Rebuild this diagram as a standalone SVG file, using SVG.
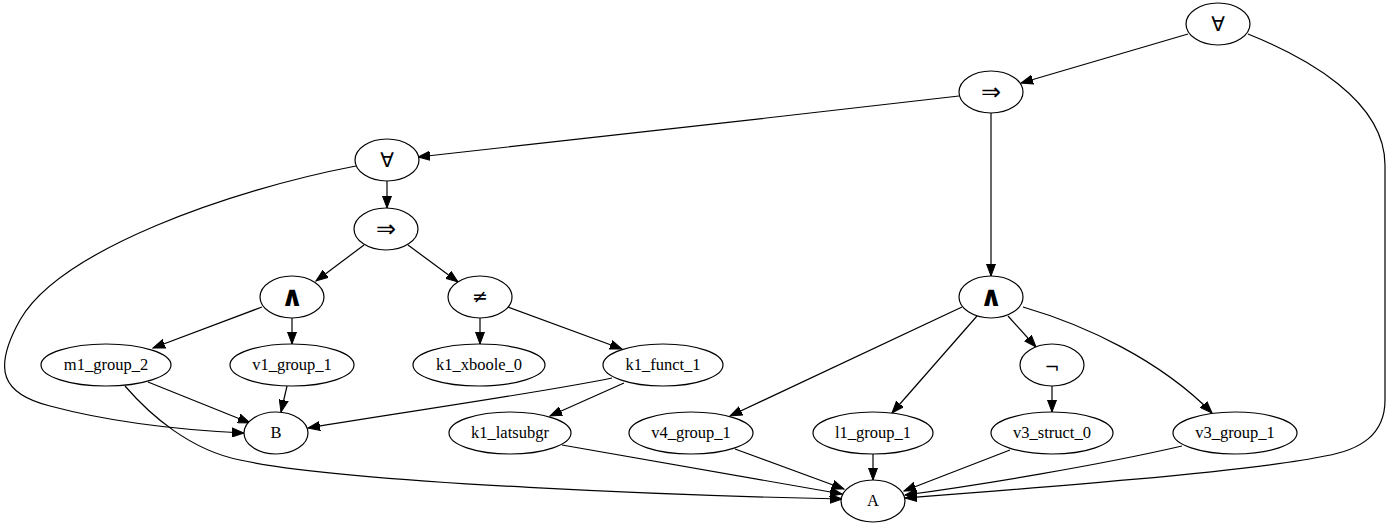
<svg xmlns="http://www.w3.org/2000/svg" width="1390" height="527" viewBox="0 0 1390 527">
<defs>
<style>
.n ellipse{fill:#fff;stroke:#000;stroke-width:1.2}
.n text{font-family:"Liberation Serif","DejaVu Sans",serif;font-size:16.5px;text-anchor:middle;fill:#000}
.n text.fa{font-family:"DejaVu Sans",sans-serif;font-size:20px}
.n text.im{font-family:"DejaVu Sans",sans-serif;font-size:24px}
.n text.an{font-family:"DejaVu Sans",sans-serif;font-size:28px;font-weight:bold}
.n text.ne{font-family:"DejaVu Sans",sans-serif;font-size:19px}
.n text.no{font-family:"DejaVu Sans",sans-serif;font-size:18px}
.e path{fill:none;stroke:#000;stroke-width:1.2;marker-end:url(#ah)}
</style>
<marker id="ah" markerUnits="userSpaceOnUse" markerWidth="13" markerHeight="10" refX="12" refY="4.5" orient="auto" viewBox="0 0 13 9">
<path d="M0,0 L12,4.5 L0,9 z" fill="#000" stroke="#000" stroke-width="1"/>
</marker>
</defs>
<rect width="1390" height="527" fill="#fff"/>
<g id="edges" class="e">
<path d="M1188,34 L1021,83"/>
<path d="M1248,34 C1305,57 1385,100 1385,165 L1385,400 C1385,435 1360,450 1325,456 C1250,472 1010,490 905,498"/>
<path d="M959,96 C800,114 560,142 418,157"/>
<path d="M991,113 L991,276"/>
<path d="M387,181 L387,208"/>
<path d="M356,166 C230,190 60,250 20,320 C-8,370 2,394 50,406 C110,422 180,430 244,433"/>
<path d="M364,245 L316,281"/>
<path d="M408,245 L458,282"/>
<path d="M262,307 L153,348"/>
<path d="M292,318 L292,344"/>
<path d="M480,318 L480,344"/>
<path d="M508,307 L622,349"/>
<path d="M148,382 L250,423"/>
<path d="M125,386 C150,415 190,450 240,460 C350,484 700,496 842,499"/>
<path d="M287,386 L281,412"/>
<path d="M612,378 C540,393 390,414 308,428"/>
<path d="M624,383 L550,416"/>
<path d="M562,445 L842,494"/>
<path d="M735,449 L844,489"/>
<path d="M873,454 L873,480"/>
<path d="M1010,450 L904,491"/>
<path d="M1182,446 C1100,465 980,485 905,495"/>
<path d="M962,307 L730,416"/>
<path d="M977,316 L892,413"/>
<path d="M1008,316 L1036,347"/>
<path d="M1023,307 C1085,325 1160,360 1212,413"/>
<path d="M1052,386 L1052,412"/>
</g>
<g id="forall1" class="n"><ellipse cx="1218" cy="24" rx="32" ry="21"/><text class="fa" x="1218" y="31">∀</text></g>
<g id="implies1" class="n"><ellipse cx="991" cy="92" rx="32" ry="21"/><text class="im" x="991" y="100">⇒</text></g>
<g id="forall2" class="n"><ellipse cx="387" cy="160" rx="32" ry="21"/><text class="fa" x="387" y="167">∀</text></g>
<g id="implies2" class="n"><ellipse cx="386" cy="229" rx="32" ry="21"/><text class="im" x="386" y="237">⇒</text></g>
<g id="andL" class="n"><ellipse cx="292" cy="297" rx="32" ry="21"/><text class="an" x="292" y="306">∧</text></g>
<g id="neq" class="n"><ellipse cx="480" cy="297" rx="32" ry="21"/><text class="ne" x="480" y="303">≠</text></g>
<g id="m1_group_2" class="n"><ellipse cx="106" cy="365" rx="65" ry="21"/><text x="106" y="370">m1_group_2</text></g>
<g id="v1_group_1" class="n"><ellipse cx="292" cy="365" rx="62" ry="21"/><text x="292" y="370">v1_group_1</text></g>
<g id="k1_xboole_0" class="n"><ellipse cx="479" cy="365" rx="66" ry="21"/><text x="479" y="370">k1_xboole_0</text></g>
<g id="k1_funct_1" class="n"><ellipse cx="663" cy="365" rx="60" ry="21"/><text x="663" y="370">k1_funct_1</text></g>
<g id="B" class="n"><ellipse cx="276" cy="433" rx="32" ry="21"/><text x="276" y="438">B</text></g>
<g id="k1_latsubgr" class="n"><ellipse cx="510" cy="433" rx="61" ry="21"/><text x="510" y="438">k1_latsubgr</text></g>
<g id="v4_group_1" class="n"><ellipse cx="691" cy="433" rx="62" ry="21"/><text x="691" y="438">v4_group_1</text></g>
<g id="l1_group_1" class="n"><ellipse cx="873" cy="433" rx="60" ry="21"/><text x="873" y="438">l1_group_1</text></g>
<g id="v3_struct_0" class="n"><ellipse cx="1052" cy="433" rx="61" ry="21"/><text x="1052" y="438">v3_struct_0</text></g>
<g id="v3_group_1" class="n"><ellipse cx="1235" cy="433" rx="62" ry="21"/><text x="1235" y="438">v3_group_1</text></g>
<g id="andR" class="n"><ellipse cx="991" cy="297" rx="32" ry="21"/><text class="an" x="991" y="306">∧</text></g>
<g id="not" class="n"><ellipse cx="1052" cy="365" rx="32" ry="21"/><text class="no" x="1052" y="373">¬</text></g>
<g id="A" class="n"><ellipse cx="873" cy="501" rx="32" ry="21"/><text x="873" y="506">A</text></g>
</svg>
